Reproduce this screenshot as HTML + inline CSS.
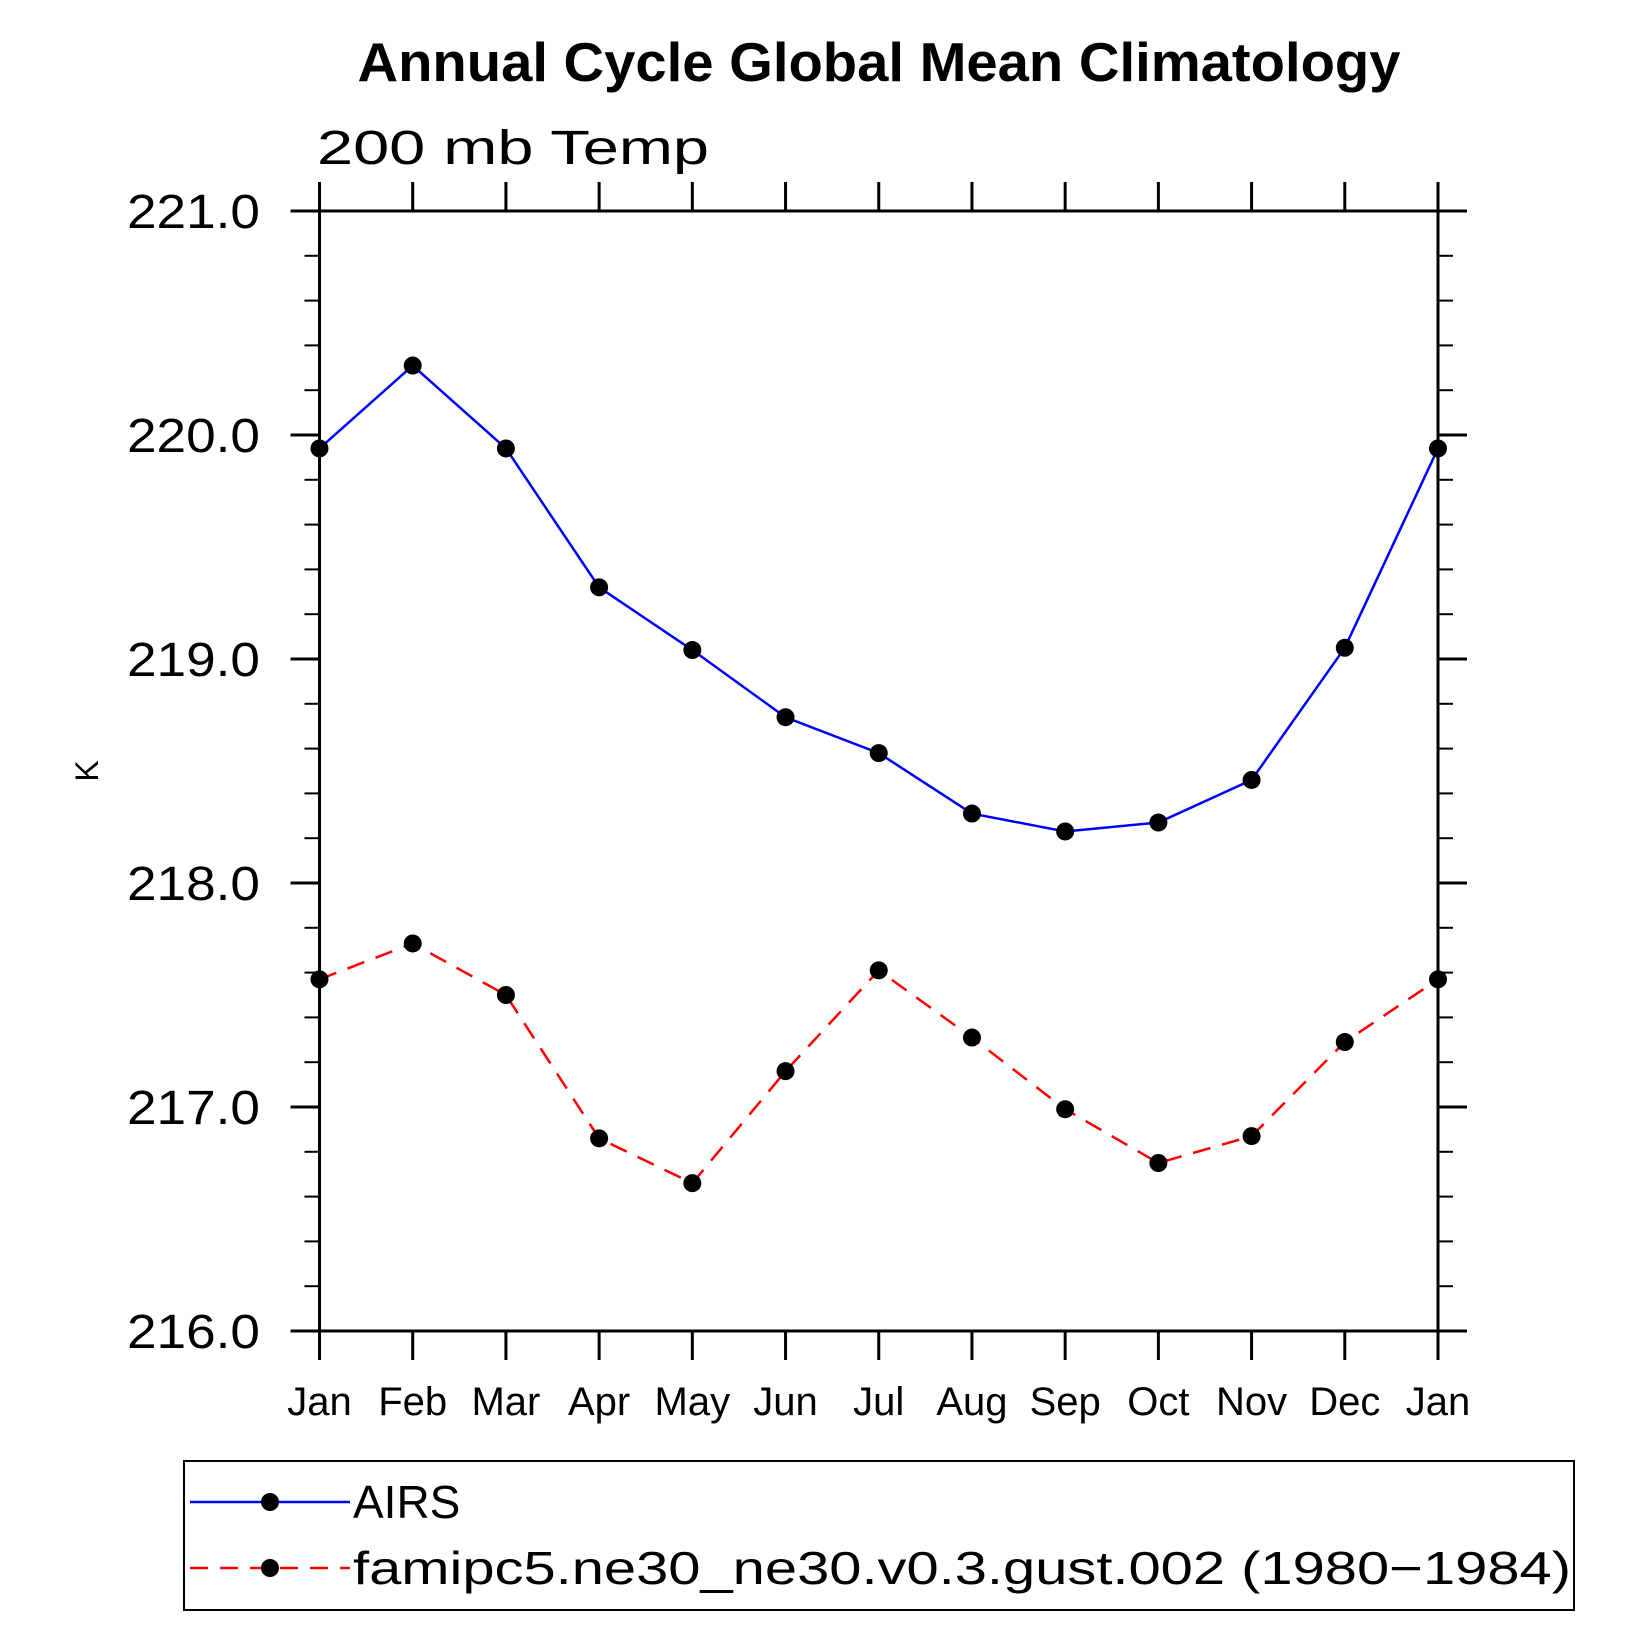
<!DOCTYPE html>
<html><head><meta charset="utf-8"><style>
html,body{margin:0;padding:0;background:#fff}
svg{display:block}
text{font-family:"Liberation Sans","DejaVu Sans",sans-serif}
</style></head><body>
<svg id="chart" width="1647" height="1647" viewBox="0 0 1647 1647" xmlns="http://www.w3.org/2000/svg">
<text x="879" y="81" text-anchor="middle" font-size="55" font-weight="bold" textLength="1043" lengthAdjust="spacingAndGlyphs">Annual Cycle Global Mean Climatology</text>
<text x="317" y="164" font-size="48" textLength="392" lengthAdjust="spacingAndGlyphs">200  mb  Temp</text>
<text transform="translate(98,771) rotate(-90)" text-anchor="middle" font-size="32">K</text>
<g id="axes"></g>
<g id="series"></g>
<rect x="184" y="1461" width="1390" height="149" fill="none" stroke="#000" stroke-width="2"/>
<g>
<line x1="190" y1="1502" x2="350" y2="1502" stroke="#0000ff" stroke-width="2.5"/>
<circle cx="270" cy="1502" r="9" fill="#000"/>
<text x="353" y="1518" font-size="46">AIRS</text>
</g>
<g>
<line x1="190" y1="1568" x2="350" y2="1568" stroke="#ff0000" stroke-width="2.5" stroke-dasharray="18,12"/>
<circle cx="270" cy="1568" r="9" fill="#000"/>
<text x="353" y="1584" font-size="46" textLength="1218" lengthAdjust="spacingAndGlyphs">famipc5.ne30_ne30.v0.3.gust.002 (1980−1984)</text>
</g>
</svg>
<script>
const months = ["Jan","Feb","Mar","Apr","May","Jun","Jul","Aug","Sep","Oct","Nov","Dec","Jan"];
const airs = [219.94,220.31,219.94,219.32,219.04,218.74,218.58,218.31,218.23,218.27,218.46,219.05,219.94];
const model = [217.57,217.73,217.50,216.86,216.66,217.16,217.61,217.31,216.99,216.75,216.87,217.29,217.57];
const yTicks = [216,217,218,219,220,221];
const yTickLabels = ["216.0","217.0","218.0","219.0","220.0","221.0"];

const NS="http://www.w3.org/2000/svg";
const L=319.5,R=1438,T=211,B=1331,yMin=216,yMax=221;
const xs=i=>L+(R-L)*i/(months.length-1);
const ys=v=>B-(v-yMin)/(yMax-yMin)*(B-T);
function mk(tag,attrs,parent){const e=document.createElementNS(NS,tag);for(const k in attrs)e.setAttribute(k,attrs[k]);parent.appendChild(e);return e;}
const ax=document.getElementById('axes');
const frame=mk('rect',{x:L,y:T,width:R-L,height:B-T,fill:'none',stroke:'#000','stroke-width':3},ax);


months.forEach((m,i)=>{
  const x=xs(i);
  mk('line',{x1:x,y1:B,x2:x,y2:B+29,stroke:'#000','stroke-width':3},ax);
  mk('line',{x1:x,y1:T,x2:x,y2:T-29,stroke:'#000','stroke-width':3},ax);
  const t=mk('text',{x:x,y:B+84,'text-anchor':'middle','font-size':40},ax);
  t.textContent=m;
  
  
});
for(let v=yMin;v<=yMax+1e-9;v+=0.2){
  const y=ys(v);const major=Math.abs(v-Math.round(v))<1e-6;const len=major?29:15;
  mk('line',{x1:L-len,y1:y,x2:L,y2:y,stroke:'#000','stroke-width':major?3:2},ax);
  mk('line',{x1:R,y1:y,x2:R+len,y2:y,stroke:'#000','stroke-width':major?3:2},ax);
}
yTicks.forEach((v,i)=>{
  const t=mk('text',{x:127,y:ys(v)+17,'font-size':48,textLength:133,lengthAdjust:'spacingAndGlyphs'},ax);
  t.textContent=yTickLabels[i];
  
  
});
const sg=document.getElementById('series');
function drawSeries(vals,color,dash,name){
  const pts=vals.map((v,i)=>xs(i)+','+ys(v)).join(' ');
  const pl=mk('polyline',{points:pts,fill:'none',stroke:color,'stroke-width':2.5,'stroke-dasharray':dash},sg);
  
  
  vals.forEach((v,i)=>{
    const c=mk('circle',{cx:xs(i),cy:ys(v),r:9,fill:'#000'},sg);
    
    
  });
}
drawSeries(airs,'#0000ff','none','airs');
drawSeries(model,'#ff0000','18,12','model');
</script>
</body></html>
